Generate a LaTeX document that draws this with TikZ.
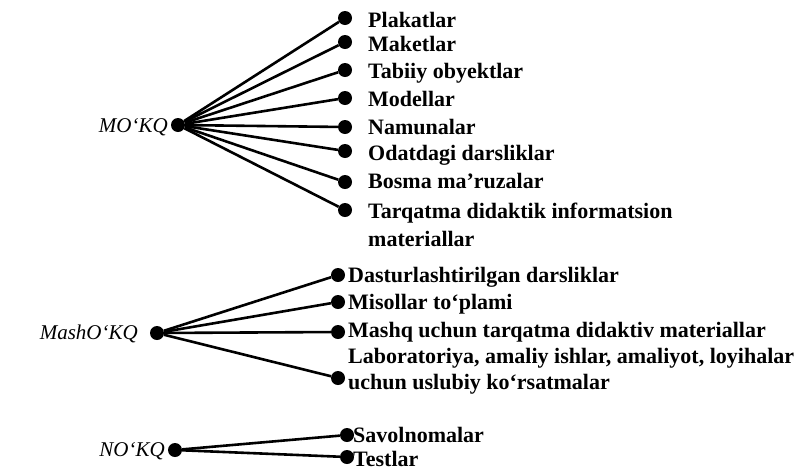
\documentclass[tikz,border=0pt]{standalone}
\usepackage{fontspec}
\setmainfont{Liberation Serif}
\usetikzlibrary{positioning}

\begin{document}
\begin{tikzpicture}[x=1pt,y=-1pt,
  dot/.style={circle,fill=black,inner sep=0pt,minimum size=14pt},
  item/.style={anchor=base west,inner sep=0pt,font=\fontsize{22}{27}\selectfont\bfseries},
  group/.style={anchor=east,inner sep=0pt,font=\fontsize{21}{27}\selectfont\itshape},
  edge/.style={line width=2.6pt}]
\useasboundingbox (0,0) rectangle (808,472);

% MO'KQ
\node[group] (mokq) at (168,127) {MO‘KQ};
\node[dot] (h1) at (178,125) {};
\node[dot] (a1) at (345,18) {};
\node[dot] (a2) at (345,42) {};
\node[dot] (a3) at (345,70) {};
\node[dot] (a4) at (345,98) {};
\node[dot] (a5) at (345,127) {};
\node[dot] (a6) at (345,151) {};
\node[dot] (a7) at (345,182) {};
\node[dot] (a8) at (345,210) {};
\node[item] (t1) at (368,27) {Plakatlar};
\node[item] (t2) at (368,51) {Maketlar};
\node[item] (t3) at (368,78) {Tabiiy obyektlar};
\node[item] (t4) at (368,106) {Modellar};
\node[item] (t5) at (368,134) {Namunalar};
\node[item] (t6) at (368,160) {Odatdagi darsliklar};
\node[item] (t7) at (368,188) {Bosma ma’ruzalar};
\node[item] (t8) at (368,218) {Tarqatma didaktik informatsion};
\node[item] (t8b) at (368,246) {materiallar};
\draw [edge] (h1) -- (a1);
\draw [edge] (h1) -- (a2);
\draw [edge] (h1) -- (a3);
\draw [edge] (h1) -- (a4);
\draw [edge] (h1) -- (a5);
\draw [edge] (h1) -- (a6);
\draw [edge] (h1) -- (a7);
\draw [edge] (h1) -- (a8);

% MashO'KQ
\node[group] (mashokq) at (138,334) {MashO‘KQ};
\node[dot] (h2) at (157,333) {};
\node[dot] (b1) at (338,275) {};
\node[dot] (b2) at (338,302) {};
\node[dot] (b3) at (338,332) {};
\node[dot] (b4) at (338,378) {};
\node[item] (u1) at (348,282) {Dasturlashtirilgan darsliklar};
\node[item] (u2) at (348,309) {Misollar to‘plami};
\node[item] (u3) at (348,337) {Mashq uchun tarqatma didaktiv materiallar};
\node[item] (u4) at (348,363) {Laboratoriya, amaliy ishlar, amaliyot, loyihalar};
\node[item] (u4b) at (348,389) {uchun uslubiy ko‘rsatmalar};
\draw [edge] (h2) -- (b1);
\draw [edge] (h2) -- (b2);
\draw [edge] (h2) -- (b3);
\draw [edge] (h2) -- (b4);

% NO'KQ
\node[group] (nokq) at (165,451) {NO‘KQ};
\node[dot] (h3) at (175,450) {};
\node[dot] (c1) at (347,435) {};
\node[dot] (c2) at (347,457) {};
\node[item] (v1) at (353,442) {Savolnomalar};
\node[item] (v2) at (353,466) {Testlar};
\draw [edge] (h3) -- (c1);
\draw [edge] (h3) -- (c2);

\end{tikzpicture}
\end{document}
